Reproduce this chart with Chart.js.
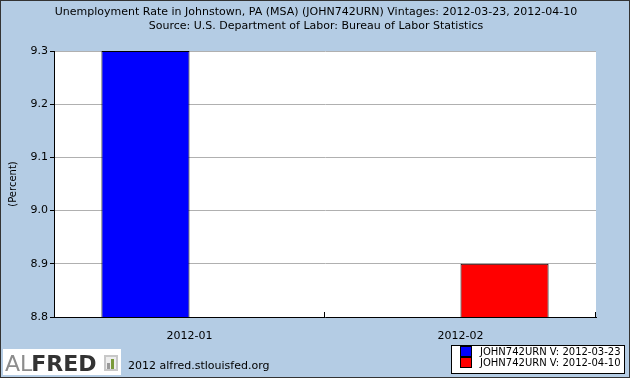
<!DOCTYPE html>
<html>
<head>
<meta charset="utf-8">
<script src="https://cdn.jsdelivr.net/npm/chart.js@4"></script>
<style>
  html, body { margin: 0; padding: 0; background: #b4cce4; }
  #wrap { width: 630px; height: 378px; position: relative; }
</style>
</head>
<body>
<div id="wrap"><canvas id="myChart" width="630" height="378"></canvas></div>
<script>
// Data
var categories = ["2012-01", "2012-02"];
var vintageA = [9.3, null];
var vintageB = [null, 8.9];
var seriesLabels = ["JOHN742URN V: 2012-03-23", "JOHN742URN V: 2012-04-10"];
var yTicks = [8.8, 8.9, 9.0, 9.1, 9.2, 9.3];

var titleLines = [
    "Unemployment Rate in Johnstown, PA (MSA) (JOHN742URN) Vintages: 2012-03-23, 2012-04-10",
    "Source: U.S. Department of Labor: Bureau of Labor Statistics"
];

var FONT = "'DejaVu Sans', sans-serif";

// background, titles, x ticks, legend, logo
var decorations = {
    id: "decorations",
    beforeDraw: function (chart) {
        var c = chart.ctx;
        c.save();
        c.fillStyle = "#b4cce4";
        c.fillRect(0, 0, chart.width, chart.height);
        var a = chart.chartArea;
        c.fillStyle = "#ffffff";
        c.fillRect(a.left, a.top, a.right - a.left, a.bottom - a.top);
        c.restore();
    },
    afterDraw: function (chart) {
        var c = chart.ctx;
        var a = chart.chartArea;
        c.save();

        // titles
        c.fillStyle = "#000";
        c.font = "11px " + FONT;
        c.textAlign = "center";
        c.textBaseline = "middle";
        c.fillText(titleLines[0], 316, 12);
        c.fillText(titleLines[1], 316, 26);

        // x axis tick marks (pointing up)
        var xs = chart.scales.x;
        var half = (xs.getPixelForTick(1) - xs.getPixelForTick(0)) / 2;
        c.strokeStyle = "#000";
        c.lineWidth = 1;
        c.beginPath();
        for (var i = 0; i < categories.length; i++) {
            var px = Math.round(xs.getPixelForTick(i) + half) - 0.5;
            c.moveTo(px, a.bottom);
            c.lineTo(px, a.bottom - 5);
        }
        c.stroke();

        // legend
        c.fillStyle = "#fff";
        c.fillRect(452, 346, 172, 27);
        c.strokeStyle = "#000";
        c.strokeRect(451.5, 345.5, 173, 28);
        c.font = "10px " + FONT;
        c.textAlign = "left";
        chart.data.datasets.forEach(function (ds, k) {
            var y = 347 + k * 11;
            c.fillStyle = ds.backgroundColor;
            c.fillRect(461, y, 10, 9);
            c.strokeRect(460.5, y - 0.5, 11, 10);
            c.fillStyle = "#000";
            c.fillText(ds.label, 480, y + 5);
        });

        // ALFRED logo
        c.fillStyle = "#fff";
        c.fillRect(3, 349, 118, 26);
        c.textBaseline = "alphabetic";
        c.font = "22px " + FONT;
        c.fillStyle = "#8c8c8c";
        c.fillText("AL", 5, 371);
        var w = c.measureText("AL").width;
        c.font = "bold 22px " + FONT;
        c.fillStyle = "#333";
        c.fillText("FRED", 5 + w - 1, 371);
        // small bar icon
        c.fillStyle = "#c8c8c8";
        c.fillRect(104, 355, 14, 16);
        c.fillStyle = "#eee";
        c.fillRect(106, 357, 10, 12);
        c.fillStyle = "#7a9a3a";
        c.fillRect(111, 359, 3, 10);
        c.fillStyle = "#999";
        c.fillRect(107, 363, 3, 6);

        c.font = "11px " + FONT;
        c.fillStyle = "#000";
        c.textBaseline = "middle";
        c.fillText("2012 alfred.stlouisfed.org", 128, 366);

        // outer frame
        c.strokeStyle = "#333";
        c.strokeRect(0.5, 0.5, chart.width - 1, chart.height - 1);
        c.restore();
    }
};

var ctx = document.getElementById("myChart").getContext("2d");
var myChart = new Chart(ctx, {
    type: "bar",
    data: {
        labels: categories,
        datasets: [
            {
                label: seriesLabels[0],
                data: vintageA,
                backgroundColor: "#0000ff",
                borderColor: "#000",
                borderWidth: 1,
                borderSkipped: false
            },
            {
                label: seriesLabels[1],
                data: vintageB,
                backgroundColor: "#ff0000",
                borderColor: "#000",
                borderWidth: 1,
                borderSkipped: false
            }
        ]
    },
    options: {
        responsive: false,
        animation: false,
        datasets: { bar: { categoryPercentage: 0.65, barPercentage: 1 } },
        layout: { padding: { top: 51, right: 34, bottom: 0, left: 0 } },
        plugins: {
            legend: { display: false },
            title: { display: false },
            tooltip: { enabled: false }
        },
        scales: {
            x: {
                grid: { display: false },
                border: { color: "#000", width: 1 },
                ticks: { color: "#000", font: { family: FONT, size: 11 }, padding: 5 },
                afterFit: function (s) { s.height = 61; }
            },
            y: {
                min: 8.8,
                max: 9.3,
                afterBuildTicks: function (s) {
                    s.ticks = yTicks.map(function (v) { return { value: v }; });
                },
                grid: { color: "#b0b0b0", tickColor: "#000", tickLength: 4 },
                border: { color: "#000", width: 1 },
                ticks: {
                    color: "#000",
                    font: { family: FONT, size: 11 },
                    padding: 2,
                    callback: function (v) { return v.toFixed(1); }
                },
                title: {
                    display: true,
                    text: "(Percent)",
                    color: "#000",
                    font: { family: FONT, size: 10 },
                    padding: { top: 7, bottom: 0 }
                },
                afterFit: function (s) { s.width = 54; }
            }
        }
    },
    plugins: [decorations]
});
</script>
</body>
</html>
